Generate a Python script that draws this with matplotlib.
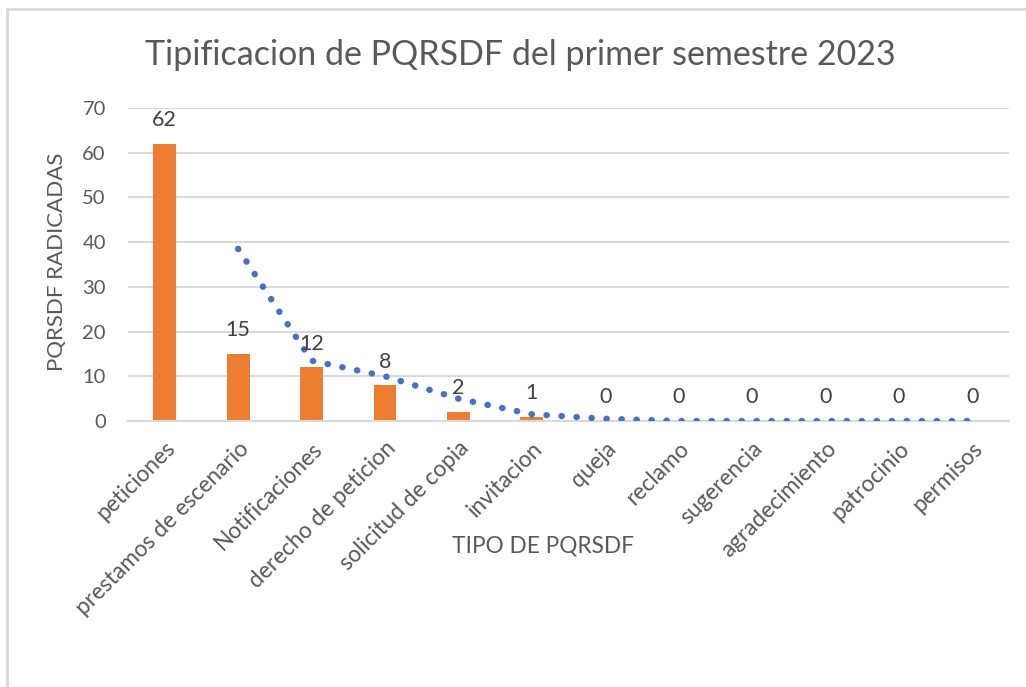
import numpy as np
import matplotlib
matplotlib.use("Agg")
import matplotlib.pyplot as plt
from matplotlib.lines import Line2D

categories = ["peticiones", "prestamos de escenario", "Notificaciones", "derecho de peticion",
              "solicitud de copia", "invitacion", "queja", "reclamo", "sugerencia",
              "agradecimiento", "patrocinio", "permisos"]
values = [62, 15, 12, 8, 2, 1, 0, 0, 0, 0, 0, 0]
# moving-average trendline (period 2)
trend = [np.nan, 38.5, 13.5, 10, 5, 1.5, 0.5, 0, 0, 0, 0, 0]
yticks = [0, 10, 20, 30, 40, 50, 60, 70]

title = "Tipificacion de PQRSDF del primer semestre 2023"
xlabel = "TIPO DE PQRSDF"
ylabel = "PQRSDF RADICADAS"

plt.rcParams['font.family'] = ['Lato', 'DejaVu Sans']
TXT = "#595959"
GRID = "#D9D9D9"

fig = plt.figure(figsize=(10.26, 6.87), dpi=100)
ax = fig.add_axes([128/1026, 1-421/687, (1009-128)/1026, (421-108)/687])

x = np.arange(len(categories))
ax.bar(x, values, width=0.31, color="#ED7D31", zorder=2)
ax.plot(x, trend, color="#4472C4", linewidth=4.6, linestyle=(0, (0.05, 2.3)),
        dash_capstyle="round", zorder=3)

for xi, v in zip(x, values):
    ax.annotate(str(v), (xi, v), xytext=(0, 17), textcoords="offset points",
                ha="center", va="center", fontsize=15.5, color="#404040", zorder=4)

ax.set_xlim(-0.5, len(categories) - 0.5)
ax.set_ylim(0, 70)
ax.set_yticks(yticks)
ax.yaxis.grid(True, color=GRID, linewidth=1.5, zorder=0)
ax.set_axisbelow(True)
for s in ["top", "right", "left"]:
    ax.spines[s].set_visible(False)
ax.spines["bottom"].set_color(GRID)
ax.spines["bottom"].set_linewidth(1.5)
ax.tick_params(axis="y", length=0, labelsize=14.5, colors=TXT, pad=16)
ax.set_xticks(x)
ax.set_xticklabels(categories, rotation=45, ha="right", rotation_mode="anchor")
ax.tick_params(axis="x", length=0, labelsize=16.3, colors=TXT, pad=12)

ax.set_ylabel(ylabel, fontsize=16, color=TXT)
ax.yaxis.set_label_coords((57-128)/881, (421-262)/313)
ax.yaxis.label.set_va("center")
ax.yaxis.label.set_ha("center")
ax.set_xlabel(xlabel, fontsize=16.3, color=TXT)
ax.xaxis.set_label_coords((543-128)/881, (421-546)/313)
ax.xaxis.label.set_va("center")

fig.text(520/1026, 1-55/687, title, ha="center", va="center", fontsize=24.5,
         color=TXT)

# chart frame (cropped on right and bottom)
fig.add_artist(Line2D([7/1026, 7/1026], [0, 1-9/687], transform=fig.transFigure,
                      color=GRID, linewidth=2))
fig.add_artist(Line2D([7/1026, 1], [1-9/687, 1-9/687], transform=fig.transFigure,
                      color=GRID, linewidth=2))

fig.savefig("out.png", dpi=100, facecolor="white")
